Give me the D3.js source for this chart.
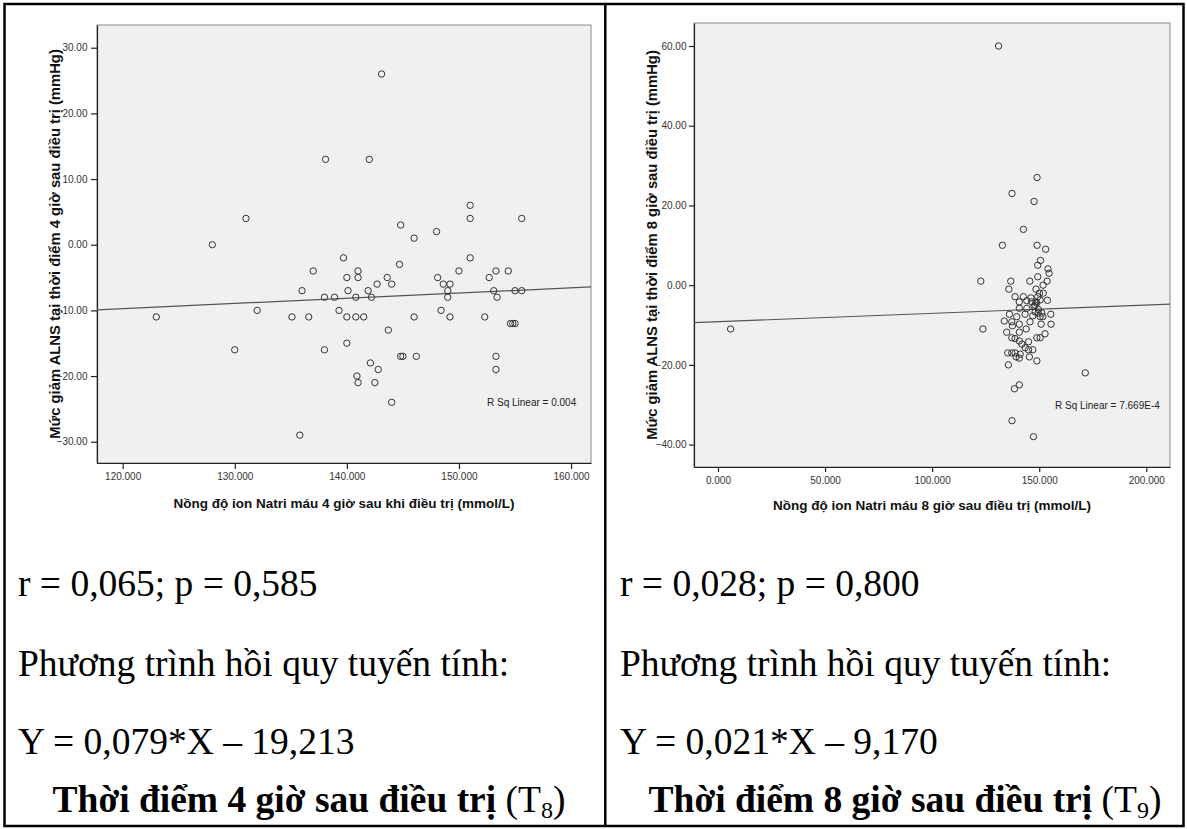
<!DOCTYPE html>
<html>
<head>
<meta charset="utf-8">
<script src="https://cdn.jsdelivr.net/npm/d3@7"></script>
<style>
  body { margin: 0; background: #fff; }
  svg text { font-family: "Liberation Sans", Arial, sans-serif; }
</style>
</head>
<body>
<svg id="fig" width="1187" height="829"></svg>
<script>
// T8: serum sodium 4 h after treatment (mmol/L) vs. drop in intracranial pressure (mmHg)
const t8Natri = [128, 131, 143.1, 138.1, 142, 151, 151, 155.6, 144.8, 146, 148, 139.7, 151,
  144.7, 137, 141, 150, 153.3, 154.4, 140, 141, 143.6, 148.1, 152.7, 142.7, 144, 148.6, 149.2,
  136, 140.1, 141.9, 149, 153.1, 155, 155.6, 138, 138.9, 140.8, 142.2, 149, 153.4, 139.3, 148.4,
  132, 123, 135.1, 136.6, 140, 140.8, 141.5, 146, 149.2, 152.3, 154.6, 154.8, 155, 143.7, 140,
  138, 130, 144.8, 145, 146.2, 153.3, 142.1, 142.8, 153.3, 140.9, 141, 142.5, 144, 135.8];
const t8Giam = [0, 4, 26, 13, 13, 6, 4, 4, 3, 1, 2, -2, -2,
  -3, -4, -4, -4, -4, -4, -5, -5, -5, -5, -5, -6, -6, -6, -6,
  -7, -7, -7, -7, -7, -7, -7, -8, -8, -8, -8, -8, -8, -10, -10,
  -10, -11, -11, -11, -11, -11, -11, -11, -11, -11, -12, -12, -12, -13, -15,
  -16, -16, -17, -17, -17, -17, -18, -19, -19, -20, -21, -21, -24, -29];

// T9: serum sodium 8 h after treatment (mmol/L) vs. drop in intracranial pressure (mmHg)
const t9Natri = [131, 149, 137.3, 147.6, 142.6, 132.8, 149, 153, 150.6, 149.3, 154.1, 154.6,
  149.3, 122.7, 136.7, 145.6, 153.7, 151.8, 135.8, 148.5, 150.1, 151.9, 138.7, 142.6, 146.1,
  149.3, 140.7, 144.2, 146.5, 148.5, 150.4, 153.8, 140.7, 144.2, 147.6, 149.6, 151.2, 148.1,
  136.1, 139.5, 143.4, 147, 150.4, 151.7, 155.4, 133.7, 137.2, 145.7, 150.9, 155.5, 140.7,
  137.5, 123.7, 134.8, 140.7, 143.9, 137.2, 138.7, 140.7, 145, 148.9, 150.4, 152.7, 141.9,
  145, 147, 143.4, 135.3, 137.2, 138.7, 141.1, 139.2, 140.7, 145.4, 148.9, 135.6, 140.7,
  138.4, 137.3, 147.3, 171.5, 5.9, 148, 148.8, 149.5];
const t9Giam = [60, 27, 23, 21, 14, 10, 10, 9, 6.2, 5, 4.1, 3,
  2.1, 1, 1, 1, 1, 0, -1, -1, -2, -2, -2.9, -2.9, -3.2,
  -2.9, -4.2, -3.9, -4.2, -4.2, -3.7, -3.8, -5.8, -5.8, -5.3, -6.1, -7, -6.7,
  -7.3, -7.9, -7.3, -7.7, -7.9, -7.9, -7.3, -9, -9.2, -9.2, -9.8, -9.8, -9.8,
  -10.2, -11, -11.8, -11.8, -11, -13.2, -13.4, -14, -14.2, -13.2, -13.2, -12.2, -14.8,
  -16.2, -16.2, -15.7, -17, -17, -17, -17.3, -18, -18.3, -18, -19, -20, -25,
  -26, -34, -38, -22, -11, -5, -4.5, -7];

// Axis ticks
const t8XTicks = [120, 130, 140, 150, 160];
const t8YTicks = [-30, -20, -10, 0, 10, 20, 30];
const t9XTicks = [0, 50, 100, 150, 200];
const t9YTicks = [-40, -20, 0, 20, 40, 60];

// Fitted lines Y = a*X + b and their R squared labels
const t8Fit = [0.079, -19.213];
const t9Fit = [0.021, -9.170];
const t8RSq = "R Sq Linear = 0.004";
const t9RSq = "R Sq Linear = 7.669E-4";

// Axis titles
const t8XTitle = "Nồng độ ion Natri máu 4 giờ sau khi điều trị (mmol/L)";
const t8YTitle = "Mức giảm ALNS tại thời điểm 4 giờ sau điều trị (mmHg)";
const t9XTitle = "Nồng độ ion Natri máu 8 giờ sau điều trị (mmol/L)";
const t9YTitle = "Mức giảm ALNS tại thời điểm 8 giờ sau điều trị (mmHg)";

// Statistics written under each plot
const t8Stats = ["r = 0,065; p = 0,585", "Phương trình hồi quy tuyến tính:", "Y = 0,079*X – 19,213"];
const t9Stats = ["r = 0,028; p = 0,800", "Phương trình hồi quy tuyến tính:", "Y = 0,021*X – 9,170"];
const t8Caption = ["Thời điểm 4 giờ sau điều trị", "8"];
const t9Caption = ["Thời điểm 8 giờ sau điều trị", "9"];

const svg = d3.select("#fig");
svg.append("rect").attr("width", 1187).attr("height", 829).attr("fill", "#fff");

function scatter(opt) {
  const g = svg.append("g");
  const x = d3.scaleLinear().domain(opt.xDomain).range([opt.left, opt.right]);
  const y = d3.scaleLinear().domain(opt.yDomain).range([opt.bottom, opt.top]);

  // plot background and frame
  g.append("rect")
    .attr("x", opt.left).attr("y", opt.top)
    .attr("width", opt.right - opt.left).attr("height", opt.bottom - opt.top)
    .attr("fill", "#f0f0f0").attr("stroke", "#8a8a8a").attr("stroke-width", 1);

  const clipId = "clip" + opt.id;
  g.append("clipPath").attr("id", clipId).append("rect")
    .attr("x", opt.left).attr("y", opt.top)
    .attr("width", opt.right - opt.left).attr("height", opt.bottom - opt.top);

  // axes
  const xAxis = d3.axisBottom(x).tickValues(opt.xTicks).tickFormat(d3.format(".3f"))
    .tickSizeInner(opt.tick).tickSizeOuter(0).tickPadding(opt.xPad);
  const yAxis = d3.axisLeft(y).tickValues(opt.yTicks).tickFormat(d3.format(".2f"))
    .tickSizeInner(opt.tick).tickSizeOuter(0).tickPadding(opt.yPad);

  const gx = g.append("g").attr("transform", `translate(0,${opt.bottom})`).call(xAxis);
  const gy = g.append("g").attr("transform", `translate(${opt.left},0)`).call(yAxis);
  [gx, gy].forEach(a => {
    a.select(".domain").attr("stroke", "#222").attr("stroke-width", 1.2);
    a.selectAll(".tick line").attr("stroke", "#222").attr("stroke-width", 1.2);
    a.selectAll(".tick text").attr("fill", "#333").attr("font-size", 10)
      .attr("font-family", "Liberation Sans, Arial, sans-serif");
  });

  // fitted line
  const [a, b] = opt.fit;
  g.append("line")
    .attr("clip-path", `url(#${clipId})`)
    .attr("x1", x(opt.xDomain[0])).attr("y1", y(a * opt.xDomain[0] + b))
    .attr("x2", x(opt.xDomain[1])).attr("y2", y(a * opt.xDomain[1] + b))
    .attr("stroke", "#555").attr("stroke-width", 1.2);

  // observations
  g.append("g").selectAll("circle")
    .data(d3.range(opt.xs.length))
    .join("circle")
    .attr("cx", i => x(opt.xs[i]))
    .attr("cy", i => y(opt.ys[i]))
    .attr("r", 3.2)
    .attr("fill", "none")
    .attr("stroke", "#333")
    .attr("stroke-width", 1);

  // R squared label
  g.append("text")
    .attr("x", opt.rsqX).attr("y", opt.rsqY)
    .attr("font-size", 10).attr("fill", "#222")
    .text(opt.rsq);

  // axis titles
  g.append("text")
    .attr("x", (opt.left + opt.right) / 2).attr("y", opt.xTitleY)
    .attr("text-anchor", "middle").attr("font-size", 13.5).attr("font-weight", "bold")
    .attr("fill", "#111")
    .text(opt.xTitle);
  g.append("text")
    .attr("transform", `translate(${opt.yTitleX},${(opt.top + opt.bottom) / 2}) rotate(-90)`)
    .attr("text-anchor", "middle").attr("font-size", 14.8).attr("font-weight", "bold")
    .attr("fill", "#111")
    .text(opt.yTitle);
}

scatter({
  id: "t8", xs: t8Natri, ys: t8Giam,
  left: 97, right: 591, top: 25, bottom: 463,
  xDomain: [117.71, 161.78], yDomain: [-33.24, 33.46],
  xTicks: t8XTicks, yTicks: t8YTicks, tick: 6, xPad: 4, yPad: 3.5,
  fit: t8Fit, rsq: t8RSq, rsqX: 487, rsqY: 406,
  xTitle: t8XTitle, yTitle: t8YTitle, xTitleY: 508, yTitleX: 60
});

scatter({
  id: "t9", xs: t9Natri, ys: t9Giam,
  left: 694, right: 1170, top: 23, bottom: 467,
  xDomain: [-11.2, 211.06], yDomain: [-45.62, 65.77],
  xTicks: t9XTicks, yTicks: t9YTicks, tick: 5, xPad: 5, yPad: 2.5,
  fit: t9Fit, rsq: t9RSq, rsqX: 1055, rsqY: 409,
  xTitle: t9XTitle, yTitle: t9YTitle, xTitleY: 510, yTitleX: 657
});

// table borders
const border = svg.append("g").attr("stroke", "#000").attr("stroke-width", 2.5).attr("fill", "none");
border.append("rect").attr("x", 4.5).attr("y", 4).attr("width", 1179).attr("height", 822);
border.append("line").attr("x1", 605.3).attr("x2", 605.3).attr("y1", 4).attr("y2", 826);

// statistics text
function statsBlock(lines, caption, x, cx) {
  const g = svg.append("g").attr("fill", "#000");
  const base = [596, 676, 754];
  lines.forEach((t, i) => {
    g.append("text").attr("x", x).attr("y", base[i]).attr("font-size", 37.5)
      .style("font-family", "Liberation Serif, 'Times New Roman', serif").text(t);
  });
  const c = g.append("text").attr("x", cx).attr("y", 812).attr("text-anchor", "middle")
    .attr("font-size", 37.5).style("font-family", "Liberation Serif, 'Times New Roman', serif");
  c.append("tspan").attr("font-weight", "bold").text(caption[0]);
  c.append("tspan").text(" (T");
  c.append("tspan").attr("font-size", 24).attr("dy", 6).text(caption[1]);
  c.append("tspan").attr("dy", -6).text(")");
}
statsBlock(t8Stats, t8Caption, 18, 309);
statsBlock(t9Stats, t9Caption, 620, 905);
</script>
</body>
</html>
